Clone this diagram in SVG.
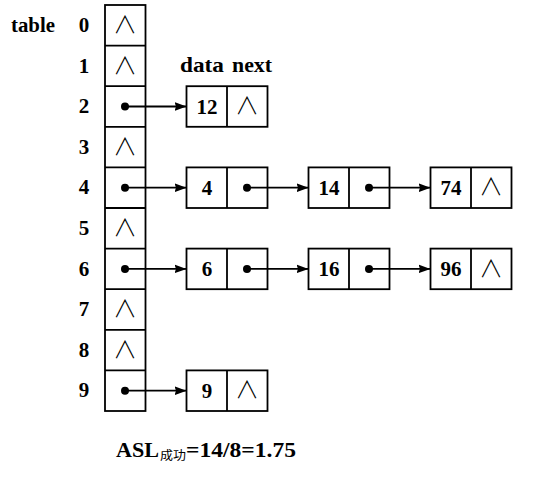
<svg xmlns="http://www.w3.org/2000/svg" width="544" height="481" viewBox="0 0 544 481">
<style>
.b{fill:#fff;stroke:#000;stroke-width:1.8}
.t{font-family:"Liberation Serif","Times New Roman",serif;font-weight:bold;font-size:21px;fill:#000}
.n{font-family:"Noto Sans CJK SC",sans-serif;font-weight:300;font-size:24px;fill:#000;text-anchor:middle}
.m{text-anchor:middle}
.c{stroke:#000;stroke-width:1.8;fill:none}
</style>
<defs>
<marker id="ah" markerWidth="13" markerHeight="10" refX="12" refY="5" orient="auto" markerUnits="userSpaceOnUse">
<path d="M0,0.6 L12,5 L0,9.4 L1.5,5 Z" fill="#000"/>
</marker>
</defs>
<text class="t" x="11" y="32" textLength="44" lengthAdjust="spacingAndGlyphs">table</text>
<text class="t" x="180" y="72" textLength="44" lengthAdjust="spacingAndGlyphs">data</text>
<text class="t" x="232" y="72" textLength="40" lengthAdjust="spacingAndGlyphs">next</text>
<g id="table">
<rect class="b" x="105" y="5" width="40.5" height="406"/>
<path class="c" d="M105,45.6H145.5M105,86.2H145.5M105,126.8H145.5M105,167.4H145.5M105,208H145.5M105,248.6H145.5M105,289.2H145.5M105,329.8H145.5M105,370.4H145.5"/>
<g class="t m">
<text x="84" y="32">0</text><text x="84" y="73">1</text><text x="84" y="113">2</text><text x="84" y="154">3</text><text x="84" y="194">4</text>
<text x="84" y="235">5</text><text x="84" y="276">6</text><text x="84" y="316">7</text><text x="84" y="357">8</text><text x="84" y="397">9</text>
</g>
<g class="n">
<text x="125" y="33">∧</text><text x="125" y="74">∧</text><text x="125" y="155">∧</text>
<text x="125" y="236">∧</text><text x="125" y="317">∧</text><text x="125" y="358">∧</text>
</g>
<g fill="#000">
<circle cx="125" cy="106.5" r="4"/><circle cx="125" cy="187.7" r="4"/><circle cx="125" cy="268.9" r="4"/><circle cx="125" cy="390.7" r="4"/>
</g>
</g>
<g id="node12">
<rect class="b" x="186.5" y="86.2" width="81" height="40.6"/><path class="c" d="M227,86.2V126.8"/>
<text class="t m" x="207" y="113.5">12</text><text class="n" x="247" y="114">∧</text>
</g>
<g id="node4">
<rect class="b" x="186.5" y="167.4" width="81" height="40.6"/><path class="c" d="M227,167.4V208"/>
<text class="t m" x="207" y="194.5">4</text><circle cx="247" cy="187.7" r="4"/>
</g>
<g id="node14">
<rect class="b" x="308.5" y="167.4" width="81" height="40.6"/><path class="c" d="M349,167.4V208"/>
<text class="t m" x="329" y="194.5">14</text><circle cx="369" cy="187.7" r="4"/>
</g>
<g id="node74">
<rect class="b" x="430.5" y="167.4" width="81" height="40.6"/><path class="c" d="M471,167.4V208"/>
<text class="t m" x="451" y="194.5">74</text><text class="n" x="491" y="195">∧</text>
</g>
<g id="node6">
<rect class="b" x="186.5" y="248.6" width="81" height="40.6"/><path class="c" d="M227,248.6V289.2"/>
<text class="t m" x="207" y="276">6</text><circle cx="247" cy="268.9" r="4"/>
</g>
<g id="node16">
<rect class="b" x="308.5" y="248.6" width="81" height="40.6"/><path class="c" d="M349,248.6V289.2"/>
<text class="t m" x="329" y="276">16</text><circle cx="369" cy="268.9" r="4"/>
</g>
<g id="node96">
<rect class="b" x="430.5" y="248.6" width="81" height="40.6"/><path class="c" d="M471,248.6V289.2"/>
<text class="t m" x="451" y="276">96</text><text class="n" x="491" y="277">∧</text>
</g>
<g id="node9">
<rect class="b" x="186.5" y="370.4" width="81" height="40.6"/><path class="c" d="M227,370.4V411"/>
<text class="t m" x="207" y="397.5">9</text><text class="n" x="247" y="398">∧</text>
</g>
<g id="connectors" class="c" marker-end="url(#ah)">
<path d="M125,106.5H186.5"/>
<path d="M125,187.7H186.5"/><path d="M247,187.7H308.5"/><path d="M369,187.7H430.5"/>
<path d="M125,268.9H186.5"/><path d="M247,268.9H308.5"/><path d="M369,268.9H430.5"/>
<path d="M125,390.7H186.5"/>
</g>
<g id="formula">
<text class="t" x="116" y="457" textLength="43" lengthAdjust="spacingAndGlyphs">ASL</text>
<text x="160" y="460" font-family="'Noto Sans CJK SC',sans-serif" font-size="12" textLength="26" lengthAdjust="spacingAndGlyphs">成功</text>
<text class="t" x="186" y="457" textLength="110" lengthAdjust="spacingAndGlyphs">=14/8=1.75</text>
</g>
</svg>
